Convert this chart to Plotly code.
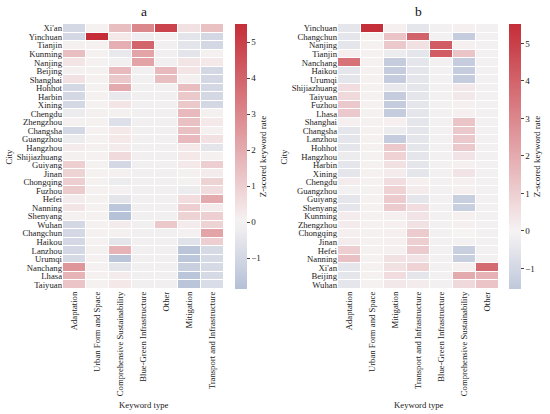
import plotly.graph_objects as go

# panel a
cities_a = ["Xi'an", "Yinchuan", "Tianjin", "Kunming", "Nanjing", "Beijing", "Shanghai", "Hohhot",
            "Harbin", "Xining", "Chengdu", "Zhengzhou", "Changsha", "Guangzhou", "Hangzhou",
            "Shijiazhuang", "Guiyang", "Jinan", "Chongqing", "Fuzhou", "Hefei", "Nanning", "Shenyang",
            "Wuhan", "Changchun", "Haikou", "Lanzhou", "Urumqi", "Nanchang", "Lhasa", "Taiyuan"]
types_a = ["Adaptation", "Urban Form and Space", "Comprehensive Sustainability",
           "Blue-Green Infrastructure", "Other", "Mitigation", "Transport and Infrastructure"]
z_a = [
    [-1.0, 0.05, 1.5, 3.0, 4.9, 0.5, 1.4],
    [-1.0, 5.5, 0.3, -0.2, 0.0, -0.5, -1.0],
    [0.1, 0.05, 1.9, 4.0, -0.1, -0.5, -1.0],
    [1.5, 0.05, -0.4, 2.2, -0.1, -0.5, 0.1],
    [0.4, 0.05, -0.1, 2.2, -0.1, 0.4, 0.3],
    [0.1, 0.05, 1.6, -0.1, 1.6, 0.4, -1.0],
    [0.5, 0.05, 1.2, -0.1, 1.5, 0.1, -1.0],
    [-1.0, 0.05, 2.0, -0.1, -0.1, 1.5, -1.0],
    [-1.0, 0.05, -0.4, -0.1, -0.1, 1.2, -1.0],
    [-1.0, 0.05, 0.4, -0.1, -0.1, 1.2, -1.0],
    [-0.3, 0.1, 0.1, -0.1, -0.1, 1.6, 0.1],
    [0.1, 0.05, -0.7, -0.1, -0.1, 1.4, 0.3],
    [-1.0, 0.05, 0.3, -0.1, -0.1, 1.4, 0.1],
    [-0.3, 0.05, 0.3, -0.1, -0.1, 1.6, 0.5],
    [0.2, 0.1, 0.2, -0.1, -0.1, 0.3, -0.5],
    [0.1, 0.05, 0.7, -0.1, -0.1, 0.3, 0.1],
    [1.0, 0.05, -1.0, -0.1, -0.1, 0.3, 1.0],
    [0.9, 0.05, 0.1, -0.1, -0.1, 0.1, 0.2],
    [1.0, 0.05, -0.3, -0.1, -0.1, 0.1, 0.9],
    [1.1, 0.05, 0.0, -0.1, -0.1, -0.3, 0.6],
    [0.2, 0.05, -0.5, -0.1, -0.1, 0.6, 2.0],
    [0.4, 0.05, -1.6, -0.1, -0.1, 1.0, 0.2],
    [0.1, 0.05, -1.8, -0.1, -0.1, 0.9, 1.0],
    [-1.0, 0.05, 0.2, -0.1, 1.2, 0.2, 0.9],
    [-1.0, 0.05, 0.1, -0.1, -0.1, 0.0, 2.2],
    [-1.0, 0.05, -0.5, -0.1, -0.1, -0.6, 1.0],
    [-1.0, 0.1, 1.8, -0.1, -0.1, -1.7, -0.9],
    [-0.9, 0.05, -1.7, -0.1, -0.1, -1.6, -0.9],
    [2.6, 0.05, -0.5, -0.1, -0.1, -1.3, -0.9],
    [1.8, 0.05, 0.2, -0.1, -0.1, -1.7, -0.9],
    [1.3, 0.05, 0.3, -0.1, -0.1, -1.7, -0.8],
]
zmin_a, zmax_a = -1.86, 5.5

# panel b
cities_b = ["Yinchuan", "Changchun", "Nanjing", "Tianjin", "Nanchang", "Haikou", "Urumqi",
            "Shijiazhuang", "Taiyuan", "Fuzhou", "Lhasa", "Shanghai", "Changsha", "Lanzhou", "Hohhot",
            "Hangzhou", "Harbin", "Xining", "Chengdu", "Guangzhou", "Guiyang", "Shenyang", "Kunming",
            "Zhengzhou", "Chongqing", "Jinan", "Hefei", "Nanning", "Xi'an", "Beijing", "Wuhan"]
types_b = ["Adaptation", "Urban Form and Space", "Mitigation", "Transport and Infrastructure",
           "Blue-Green Infrastructure", "Comprehensive Sustainability", "Other"]
z_b = [
    [-0.5, 5.5, 0.1, -0.5, -0.1, 0.1, -0.1],
    [-0.5, 0.05, 1.3, 4.0, -0.1, -1.4, -0.1],
    [-0.5, 0.05, 1.2, 0.5, 4.2, 0.1, -0.1],
    [0.1, 0.05, -0.3, -0.5, 4.2, 1.3, -0.1],
    [3.6, 0.05, -1.4, -0.5, -0.1, -1.4, -0.1],
    [-0.5, 0.05, -1.4, -0.5, -0.1, -1.4, -0.1],
    [-0.5, 0.05, -1.4, -0.5, -0.1, -1.4, -0.1],
    [0.6, 0.05, -0.4, -0.5, -0.1, 0.3, -0.1],
    [0.7, 0.05, -1.4, -0.5, -0.1, 0.3, -0.1],
    [1.2, 0.05, -1.4, -0.5, -0.1, 0.1, -0.1],
    [1.2, 0.05, -1.4, -0.5, -0.1, 0.1, -0.1],
    [0.1, 0.05, 0.1, -0.5, -0.1, 1.3, -0.1],
    [-0.5, 0.05, -0.3, -0.5, -0.1, 1.2, -0.1],
    [-0.5, 0.05, -1.4, -0.5, -0.1, 1.2, -0.1],
    [-0.5, 0.05, 1.2, -0.5, -0.1, 1.2, -0.1],
    [-0.3, 0.05, 0.9, -0.5, -0.1, 0.4, -0.1],
    [-0.5, 0.05, 0.5, -0.5, -0.1, 0.1, -0.1],
    [-0.5, 0.05, 0.2, -0.5, -0.1, 0.4, -0.1],
    [0.2, 0.05, 0.6, 0.1, -0.1, 0.1, -0.1],
    [-0.1, 0.05, 0.9, 0.2, -0.1, 0.1, -0.1],
    [-0.5, 0.05, 1.1, -0.5, -0.1, -1.3, -0.1],
    [-0.5, 0.05, 1.1, 0.6, -0.1, -1.3, -0.1],
    [0.2, 0.05, 0.1, 0.4, -0.1, 0.1, -0.1],
    [0.2, 0.05, 0.1, 0.5, -0.1, 0.1, -0.1],
    [0.1, 0.05, 0.1, 1.1, -0.1, 0.0, -0.1],
    [0.2, 0.05, 0.1, 1.0, -0.1, -0.1, -0.1],
    [1.0, 0.05, 0.1, 1.1, -0.1, -1.3, -0.1],
    [1.4, 0.05, 0.5, 0.4, -0.1, -1.3, -0.1],
    [-0.5, 0.05, 0.5, 0.9, -0.1, 0.1, 3.8],
    [-0.5, 0.05, 0.6, -0.5, -0.1, 2.0, 1.8],
    [-0.5, 0.05, 0.3, 0.2, -0.1, 0.7, 1.3],
]
zmin_b, zmax_b = -1.55, 5.52

FONT = "Liberation Serif, Times New Roman, serif"
TXT = 8.7
BLUE = (51, 92, 160)
MID = (246, 243, 243)
RED = (197, 46, 56)
HALF = 5.5  # symmetric span of the diverging map around 0


def color_at(v):
    t = max(-1.0, min(1.0, v / HALF))
    end = RED if t > 0 else BLUE
    t = abs(t)
    c = [round(MID[i] + (end[i] - MID[i]) * t) for i in range(3)]
    return "rgb({},{},{})".format(*c)


def make_scale(lo, hi, n=24):
    return [[k / (n - 1), color_at(lo + (hi - lo) * k / (n - 1))] for k in range(n)]


W, H = 550, 414
top, bottom = 24, 289
ydom = [(H - bottom) / H, (H - top) / H]
xdom_a = [63 / W, 224 / W]
xdom_b = [338 / W, 499 / W]


def colorbar(xpx):
    return dict(x=xpx / W, xanchor="left", xpad=0, ypad=0,
                y=sum(ydom) / 2, yanchor="middle",
                len=(bottom - top) / H, thickness=12, outlinewidth=0,
                ticks="outside", ticklen=3, tickwidth=1, tickcolor="#444",
                tickvals=[-1, 0, 1, 2, 3, 4, 5],
                tickfont=dict(family=FONT, size=9, color="#222"),
                title=dict(text="Z-scored keyword rate", side="right",
                           font=dict(family=FONT, size=9, color="#222")))


fig = go.Figure()
fig.add_trace(go.Heatmap(z=z_a, x=types_a, y=cities_a, zmin=zmin_a, zmax=zmax_a,
                         colorscale=make_scale(zmin_a, zmax_a), xgap=1, ygap=1,
                         colorbar=colorbar(235), xaxis="x", yaxis="y"))
fig.add_trace(go.Heatmap(z=z_b, x=types_b, y=cities_b, zmin=zmin_b, zmax=zmax_b,
                         colorscale=make_scale(zmin_b, zmax_b), xgap=1, ygap=1,
                         colorbar=colorbar(509), xaxis="x2", yaxis="y2"))

axis_common = dict(showgrid=False, zeroline=False, showline=False, ticks="", automargin=False,
                   tickfont=dict(family=FONT, size=TXT, color="#222"))
fig.update_layout(
    width=W, height=H,
    margin=dict(l=0, r=0, t=0, b=0, autoexpand=False),
    paper_bgcolor="white", plot_bgcolor="white",
    font=dict(family=FONT, color="#222"),
    xaxis=dict(domain=xdom_a, anchor="y", tickangle=-90, tickvals=types_a, **axis_common),
    yaxis=dict(domain=ydom, anchor="x", autorange="reversed", tickvals=cities_a, **axis_common),
    xaxis2=dict(domain=xdom_b, anchor="y2", tickangle=-90, tickvals=types_b, **axis_common),
    yaxis2=dict(domain=ydom, anchor="x2", autorange="reversed", tickvals=cities_b, **axis_common),
)

for cx, label in [((xdom_a[0] + xdom_a[1]) / 2, "a"), ((xdom_b[0] + xdom_b[1]) / 2, "b")]:
    fig.add_annotation(x=cx, y=1 - 11 / H, xref="paper", yref="paper", text=label, showarrow=False,
                       xanchor="center", yanchor="middle",
                       font=dict(family=FONT, size=13.5, color="#111"))
    fig.add_annotation(x=cx, y=1 - 405 / H, xref="paper", yref="paper", text="Keyword type",
                       showarrow=False, xanchor="center", yanchor="middle",
                       font=dict(family=FONT, size=TXT, color="#222"))
for px in [8, 283]:
    fig.add_annotation(x=px / W, y=sum(ydom) / 2, xref="paper", yref="paper", text="City",
                       textangle=-90, showarrow=False, xanchor="center", yanchor="middle",
                       font=dict(family=FONT, size=TXT, color="#222"))

# drop the browser's default 8px body margin so the 550x414 figure fills the window
fig.write_html("out.html", config={"displayModeBar": False},
               post_script="document.body.style.margin = '0px';")
